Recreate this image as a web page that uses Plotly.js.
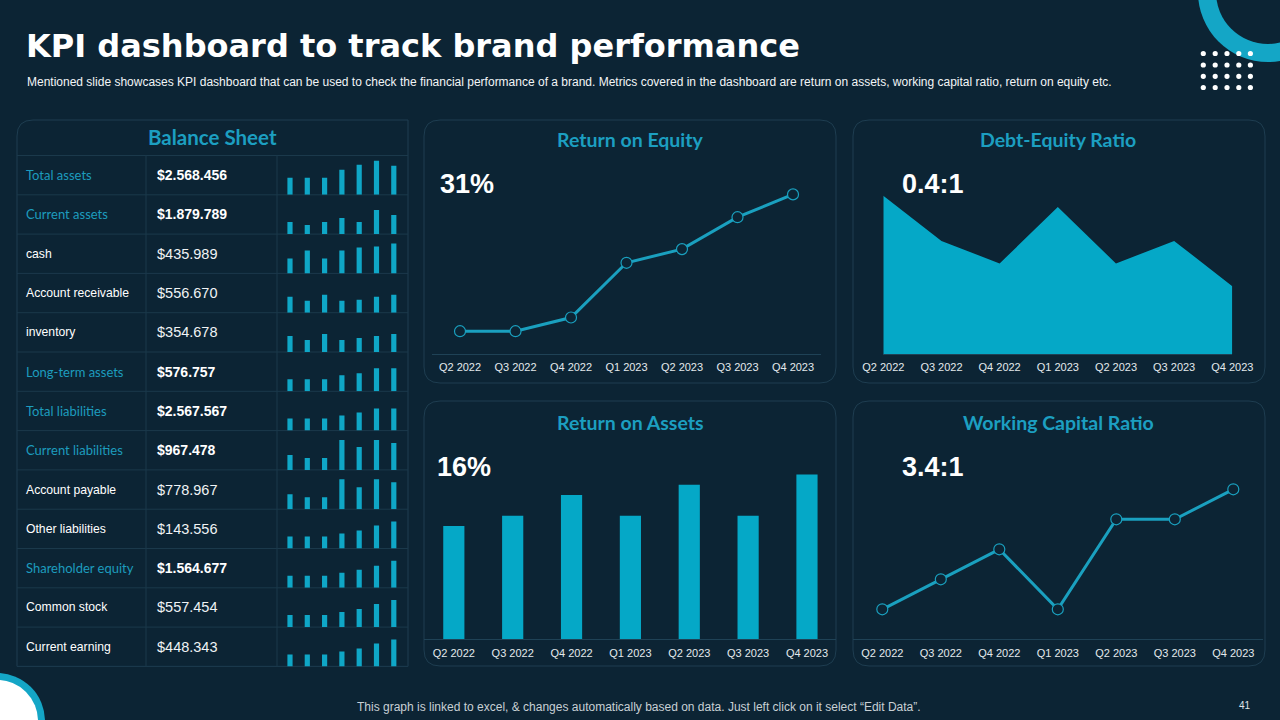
<!DOCTYPE html>
<html>
<head>
<meta charset="utf-8">
<script src="https://cdn.plot.ly/plotly-3.0.1.min.js"></script>
<style>
html,body{margin:0;padding:0;background:#0c2434;}
#chart{width:1280px;height:720px;}
</style>
</head>
<body>
<div id="chart"></div>
<script>
// ---------- DATA ----------
const quarters = ['Q2 2022','Q3 2022','Q4 2022','Q1 2023','Q2 2023','Q3 2023','Q4 2023'];
const roeValues = [5, 5, 8, 20, 23, 30, 35];
const debtEquityValues = [0.7, 0.5, 0.4, 0.65, 0.4, 0.5, 0.3];
const roaValues = [11, 12, 14, 12, 15, 12, 16];
const wcrValues = [1, 2, 3, 1, 4, 4, 5];
const kpiROE = '31%';
const kpiDebtEquity = '0.4:1';
const kpiROA = '16%';
const kpiWCR = '3.4:1';

const balanceLabels = ['Total assets','Current assets','cash','Account receivable','inventory','Long-term assets',
  'Total liabilities','Current liabilities','Account payable','Other liabilities','Shareholder equity','Common stock','Current earning'];
const balanceValues = ['$2.568.456','$1.879.789','$435.989','$556.670','$354.678','$576.757',
  '$2.567.567','$967.478','$778.967','$143.556','$1.564.677','$557.454','$448.343'];
const balanceIsTotal = [true,true,false,false,false,true,true,true,false,false,true,false,false];
const balanceTrend = [
  [17,17,17,25,30,34,29],
  [12,9,12,16,12,24,19],
  [15,23,15,23,26,27,30],
  [16,12,18,12,13,16,18],
  [16,12,18,12,14,16,18],
  [12,12,12,16,18,23,23],
  [12,12,12,15,18,22,22],
  [15,12,12,30,23,30,27],
  [15,12,12,30,22,30,27],
  [12,12,12,15,18,23,27],
  [12,12,12,15,18,22,27],
  [12,12,12,15,18,23,27],
  [12,12,12,15,18,23,27]
];

// ---------- STYLE / HELPERS ----------
const W = 1280, H = 720;
const X = px => px / W;
const Y = py => 1 - py / H;
const BG = '#0c2434';
const CYAN = '#05a8c7';
const LINE = '#1aa0bf';
const TITLE = '#1c9fc1';
const BORDER = '#1e3d50';
const TICKFONT = {family:'Liberation Sans, Arial, sans-serif', size:11, color:'#e3e9ec'};
const HEADFONT = 'Lato, Noto Sans, sans-serif';
const ARIAL = 'Liberation Sans, Arial, sans-serif';

function rr(x0,y0,x1,y1,r){
  return `M${X(x0+r)},${Y(y0)} L${X(x1-r)},${Y(y0)} Q${X(x1)},${Y(y0)} ${X(x1)},${Y(y0+r)} `+
         `L${X(x1)},${Y(y1-r)} Q${X(x1)},${Y(y1)} ${X(x1-r)},${Y(y1)} `+
         `L${X(x0+r)},${Y(y1)} Q${X(x0)},${Y(y1)} ${X(x0)},${Y(y1-r)} `+
         `L${X(x0)},${Y(y0+r)} Q${X(x0)},${Y(y0)} ${X(x0+r)},${Y(y0)} Z`;
}
function ann(text,x,y,opt){
  return Object.assign({text, x:X(x), y:Y(y), xref:'paper', yref:'paper', showarrow:false,
    xanchor:'left', yanchor:'middle', font:{family:ARIAL,size:12,color:'#ffffff'}}, opt||{});
}

const traces = [];
const layout = {
  width:W, height:H, margin:{l:0,r:0,t:0,b:0},
  paper_bgcolor:BG, plot_bgcolor:'rgba(0,0,0,0)',
  showlegend:false, shapes:[], annotations:[]
};
const hiddenAxis = {visible:false, showgrid:false, zeroline:false, fixedrange:true};
function catX(domain, range, showline){
  return {domain:domain, range:range, type:'category', showgrid:false, zeroline:false,
    showline:showline, linecolor:'#1f4256', linewidth:1, ticks:'outside', ticklen:3,
    tickcolor:'rgba(0,0,0,0)', tickfont:TICKFONT, fixedrange:true};
}

// ---- Return on Equity (line) ----
traces.push({type:'scatter', mode:'lines+markers', x:quarters, y:roeValues, xaxis:'x', yaxis:'y',
  line:{color:LINE, width:3}, marker:{size:11, color:BG, line:{color:LINE, width:1.2}}, cliponaxis:false});
layout.xaxis = catX([X(432.25), X(820.75)], [-0.5,6.5], true);
layout.yaxis = Object.assign({}, hiddenAxis, {domain:[Y(354),Y(180)], range:[0,(354-180)/4.56]});

// ---- Debt-Equity Ratio (area) ----
traces.push({type:'scatter', mode:'lines', x:quarters, y:debtEquityValues, xaxis:'x2', yaxis:'y2',
  fill:'tozeroy', fillcolor:CYAN, line:{color:CYAN, width:0}});
layout.xaxis2 = catX([X(883.3), X(1232.3)], [0,6], true);
layout.xaxis2.anchor = 'y2';
layout.yaxis2 = Object.assign({}, hiddenAxis, {domain:[Y(354),Y(173)], range:[0,0.8], anchor:'x2'});

// ---- Return on Assets (bars) ----
traces.push({type:'bar', x:quarters, y:roaValues, xaxis:'x3', yaxis:'y3', width:0.36,
  marker:{color:CYAN}});
layout.xaxis3 = catX([X(424.4), X(836.4)], [-0.5,6.5], true);
layout.xaxis3.anchor = 'y3';
layout.yaxis3 = Object.assign({}, hiddenAxis, {domain:[Y(639.3),Y(450)], range:[0,(639.3-450)/10.3], anchor:'x3'});

// ---- Working Capital Ratio (line) ----
traces.push({type:'scatter', mode:'lines+markers', x:quarters, y:wcrValues, xaxis:'x4', yaxis:'y4',
  line:{color:LINE, width:3}, marker:{size:11, color:BG, line:{color:LINE, width:1.2}}, cliponaxis:false});
layout.xaxis4 = catX([X(853.05), X(1262.55)], [-0.5,6.5], true);
layout.xaxis4.anchor = 'y4';
layout.yaxis4 = Object.assign({}, hiddenAxis, {domain:[Y(639.3),Y(470)], range:[0,(639.3-470)/30], anchor:'x4'});

// ---- Balance sheet sparklines ----
const rowTop0 = 155.5, rowH = 39.3;
balanceTrend.forEach((vals,i)=>{
  const n = 5 + i;
  traces.push({type:'bar', x:quarters, y:vals, xaxis:'x'+n, yaxis:'y'+n, width:0.3, marker:{color:'#0fa7c7'}});
  const top = rowTop0 + i*rowH, bot = top + rowH;
  layout['xaxis'+n] = Object.assign({}, hiddenAxis, {domain:[X(281.35),X(402.45)], range:[-0.5,6.5], type:'category', anchor:'y'+n});
  layout['yaxis'+n] = Object.assign({}, hiddenAxis, {domain:[Y(bot),Y(top)], range:[0,rowH], anchor:'x'+n});
});

// ---------- SHAPES ----------
const S = layout.shapes;
// panels
[[424,120,836,383],[853,120,1265,383],[424,401,836,666],[853,401,1265,666]].forEach(p=>{
  S.push({type:'path', xref:'paper', yref:'paper', path:rr(p[0],p[1],p[2],p[3],16), line:{color:BORDER,width:1}, layer:'below'});
});
// balance sheet outline
const bx0=17, bx1=408, by0=120, by1=666.4, br=16;
S.push({type:'path', xref:'paper', yref:'paper', layer:'below', line:{color:BORDER,width:1},
  path:`M${X(bx0)},${Y(by1)} L${X(bx0)},${Y(by0+br)} Q${X(bx0)},${Y(by0)} ${X(bx0+br)},${Y(by0)} L${X(bx1)},${Y(by0)} L${X(bx1)},${Y(by1)} Z`});
for(let i=0;i<=13;i++){
  const yy = rowTop0 + i*rowH;
  S.push({type:'line', xref:'paper', yref:'paper', layer:'below', x0:X(bx0), x1:X(bx1), y0:Y(yy), y1:Y(yy), line:{color:'#1b394b',width:1}});
}
[146,277].forEach(xx=>{
  S.push({type:'line', xref:'paper', yref:'paper', layer:'below', x0:X(xx), x1:X(xx), y0:Y(rowTop0), y1:Y(by1), line:{color:'#1b394b',width:1}});
});
// decorations top-right
S.push({type:'circle', xref:'paper', yref:'paper', x0:X(1268-70), x1:X(1268+70), y0:Y(-8-70), y1:Y(-8+70), fillcolor:'#14a6c6', line:{width:0}});
S.push({type:'circle', xref:'paper', yref:'paper', x0:X(1268-52), x1:X(1268+52), y0:Y(-8-52), y1:Y(-8+52), fillcolor:BG, line:{width:0}});
[1203.3,1215.2,1227,1238.8,1250.4].forEach(cx=>{
  [53.5,65,76.3,87.5].forEach(cy=>{
    S.push({type:'circle', xref:'paper', yref:'paper', x0:X(cx-2.6), x1:X(cx+2.6), y0:Y(cy-2.6), y1:Y(cy+2.6), fillcolor:'#ffffff', line:{width:0}});
  });
});
// decoration bottom-left
S.push({type:'circle', xref:'paper', yref:'paper', x0:X(-3-48), x1:X(-3+48), y0:Y(721-48), y1:Y(721+48), fillcolor:'#14a6c6', line:{width:0}});
S.push({type:'circle', xref:'paper', yref:'paper', x0:X(-3-41), x1:X(-3+41), y0:Y(721-41), y1:Y(721+41), fillcolor:'#ffffff', line:{width:0}});

// ---------- TEXT ----------
const A = layout.annotations;
A.push(ann('<b>KPI dashboard to track brand performance</b>', 24, 46, {font:{family:'DejaVu Sans, sans-serif',size:32,color:'#ffffff'}}));
A.push(ann('Mentioned slide showcases KPI dashboard that can be used to check the financial performance of a brand. Metrics covered in the dashboard are return on assets, working capital ratio, return on equity etc.',
  25, 82, {font:{family:ARIAL,size:12,color:'#f2f5f7'}}));
A.push(ann('<b>Balance Sheet</b>', 212, 137, {xanchor:'center', font:{family:HEADFONT,size:20.5,color:TITLE}}));
A.push(ann('<b>Return on Equity</b>', 630.5, 139, {xanchor:'center', font:{family:HEADFONT,size:19.5,color:TITLE}}));
A.push(ann('<b>Debt-Equity Ratio</b>', 1058, 139, {xanchor:'center', font:{family:HEADFONT,size:19.5,color:TITLE}}));
A.push(ann('<b>Return on Assets</b>', 630.5, 422, {xanchor:'center', font:{family:HEADFONT,size:19.5,color:TITLE}}));
A.push(ann('<b>Working Capital Ratio</b>', 1058.3, 422, {xanchor:'center', font:{family:HEADFONT,size:19.5,color:TITLE}}));
const KPIFONT = {family:ARIAL,size:27,color:'#ffffff'};
A.push(ann('<b>'+kpiROE+'</b>', 438, 184, {font:KPIFONT}));
A.push(ann('<b>'+kpiDebtEquity+'</b>', 900, 184, {font:KPIFONT}));
A.push(ann('<b>'+kpiROA+'</b>', 435, 467, {font:KPIFONT}));
A.push(ann('<b>'+kpiWCR+'</b>', 900, 467, {font:KPIFONT}));
balanceLabels.forEach((lab,i)=>{
  const cy = rowTop0 + i*rowH + rowH/2;
  if(balanceIsTotal[i]){
    A.push(ann(lab, 24, cy, {font:{family:HEADFONT,size:13,color:'#1d9cbe'}}));
    A.push(ann('<b>'+balanceValues[i]+'</b>', 155, cy, {font:{family:ARIAL,size:14,color:'#ffffff'}}));
  } else {
    A.push(ann(lab, 24, cy, {font:{family:ARIAL,size:12.2,color:'#ffffff'}}));
    A.push(ann(balanceValues[i], 155, cy, {font:{family:ARIAL,size:14.5,color:'#f0f3f5'}}));
  }
});
A.push(ann('This graph is linked to excel, &amp; changes automatically based on data. Just left click on it select \u201cEdit Data\u201d.',
  639, 707, {xanchor:'center', font:{family:ARIAL,size:12,color:'#c8d0d5'}}));
A.push(ann('41', 1245, 705, {xanchor:'center', font:{family:ARIAL,size:10,color:'#dfe5e8'}}));

Plotly.newPlot('chart', traces, layout, {staticPlot:true, displayModeBar:false});
</script>
</body>
</html>
